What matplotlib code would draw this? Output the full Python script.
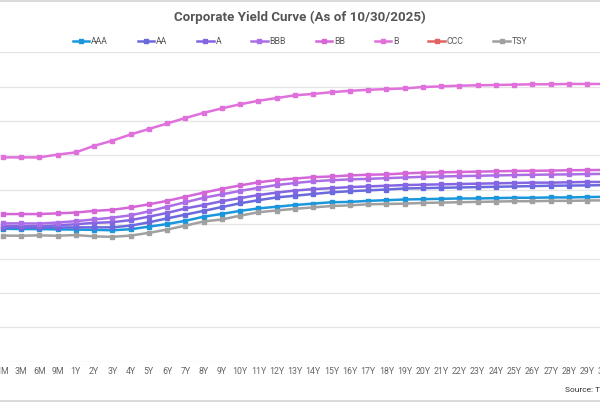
import numpy as np
import matplotlib
matplotlib.use("Agg")
import matplotlib.pyplot as plt
from matplotlib.lines import Line2D

tenors = ["1M", "3M", "6M", "9M"] + ["{}Y".format(k) for k in range(1, 31)]

aaa = [3.87, 3.86, 3.86, 3.85, 3.846, 3.837, 3.826, 3.855, 3.93, 4.006, 4.10, 4.22, 4.30, 4.39,
       4.46, 4.51, 4.56, 4.60, 4.64, 4.65, 4.68, 4.70, 4.72, 4.73, 4.74, 4.75, 4.75, 4.76,
       4.77, 4.77, 4.78, 4.78, 4.79, 4.80]
aa = [3.904, 3.904, 3.904, 3.904, 3.91, 3.91, 3.91, 3.96, 4.055, 4.17, 4.28, 4.39, 4.50, 4.61,
      4.70, 4.78, 4.83, 4.88, 4.93, 4.96, 4.985, 5.01, 5.04, 5.05, 5.06, 5.07, 5.08, 5.09,
      5.10, 5.11, 5.12, 5.125, 5.13, 5.14]
a = [3.948, 3.948, 3.94, 3.97, 4.0, 4.04, 4.06, 4.12, 4.22, 4.33, 4.46, 4.56, 4.67, 4.76,
     4.85, 4.92, 4.98, 5.02, 5.05, 5.08, 5.10, 5.12, 5.14, 5.15, 5.16, 5.17, 5.18, 5.19,
     5.20, 5.21, 5.21, 5.22, 5.23, 5.23]
bbb = [4.026, 4.026, 4.02, 4.05, 4.09, 4.14, 4.19, 4.26, 4.375, 4.51, 4.64, 4.77, 4.87, 4.97,
       5.06, 5.14, 5.20, 5.25, 5.28, 5.305, 5.32, 5.34, 5.36, 5.38, 5.39, 5.40, 5.41, 5.42,
       5.43, 5.44, 5.445, 5.45, 5.46, 5.465]
bb = [4.297, 4.297, 4.297, 4.317, 4.34, 4.39, 4.42, 4.49, 4.58, 4.68, 4.80, 4.92, 5.03, 5.13,
      5.22, 5.285, 5.33, 5.37, 5.39, 5.42, 5.44, 5.45, 5.48, 5.50, 5.51, 5.52, 5.53, 5.54,
      5.55, 5.555, 5.56, 5.57, 5.575, 5.58]
b = [5.945, 5.945, 5.945, 6.026, 6.09, 6.28, 6.43, 6.61, 6.77, 6.93, 7.09, 7.24, 7.37, 7.49,
     7.59, 7.67, 7.75, 7.79, 7.84, 7.88, 7.91, 7.93, 7.95, 7.99, 8.01, 8.03, 8.04, 8.05,
     8.06, 8.07, 8.07, 8.08, 8.08, 8.08]
ccc = [np.nan] * len(tenors)
tsy = [3.67, 3.666, 3.677, 3.666, 3.686, 3.648, 3.634, 3.67, 3.75, 3.846, 3.96, 4.08, 4.14, 4.25,
       4.35, 4.40, 4.45, 4.49, 4.53, 4.55, 4.58, 4.59, 4.60, 4.62, 4.63, 4.64, 4.65, 4.66,
       4.67, 4.67, 4.68, 4.68, 4.69, 4.695]

series = [("AAA", aaa, "#1a96dc"), ("AA", aa, "#6a6ade"), ("A", a, "#8466e2"),
          ("BBB", bbb, "#ac6ee6"), ("BB", bb, "#d466d8"), ("B", b, "#e070dc"),
          ("CCC", ccc, "#e06464"), ("TSY", tsy, "#a0a0a0")]

plt.rcParams['font.family'] = ['Roboto', 'DejaVu Sans']

fig = plt.figure(figsize=(6, 4.03), dpi=100)
ax = fig.add_axes([-0.01073, 0.1022, 1.0352, 0.768])

x = np.arange(len(tenors))
for name, vals, col in series:
    ax.plot(x, vals, color=col, lw=1.8, marker="s", markersize=2.4, label=name, zorder=3)

ax.set_xlim(-0.5, len(tenors) - 0.5)
ax.set_ylim(0, 9)
ax.set_yticks(np.arange(0, 10, 1))
ax.set_xticks(x)
ax.set_xticklabels(tenors, fontsize=6.3, color="#666666")
ax.tick_params(axis="x", length=0, pad=4)
ax.tick_params(axis="y", length=0, labelleft=False)
ax.grid(axis="y", color="#e4e4e4", lw=0.9)
for s in ax.spines.values():
    s.set_visible(False)

handles = [Line2D([0], [0], color=col, lw=1.8, marker="s", markersize=2.4) for _, _, col in series]
fig.legend(handles, [n for n, _, _ in series], loc="center", bbox_to_anchor=(0.5, 0.898),
           ncol=8, frameon=False, fontsize=6.3, handlelength=1.9, handletextpad=0.2,
           columnspacing=3.4, labelcolor="#555555")

fig.text(0.5, 0.957, "Corporate Yield Curve (As of 10/30/2025)", ha="center", va="center",
         fontsize=9.6, fontweight="bold", color="#555555")
fig.text(0.942, 0.032, "Source: Tradeweb", ha="left", va="center", fontsize=6, color="#333333")

# container border lines
fig.add_artist(Line2D([0, 1], [0.998, 0.998], color="#d4d4d4", lw=1.2))
fig.add_artist(Line2D([0, 1], [0.004, 0.004], color="#d4d4d4", lw=1.2))

fig.savefig("out.png", dpi=100)
